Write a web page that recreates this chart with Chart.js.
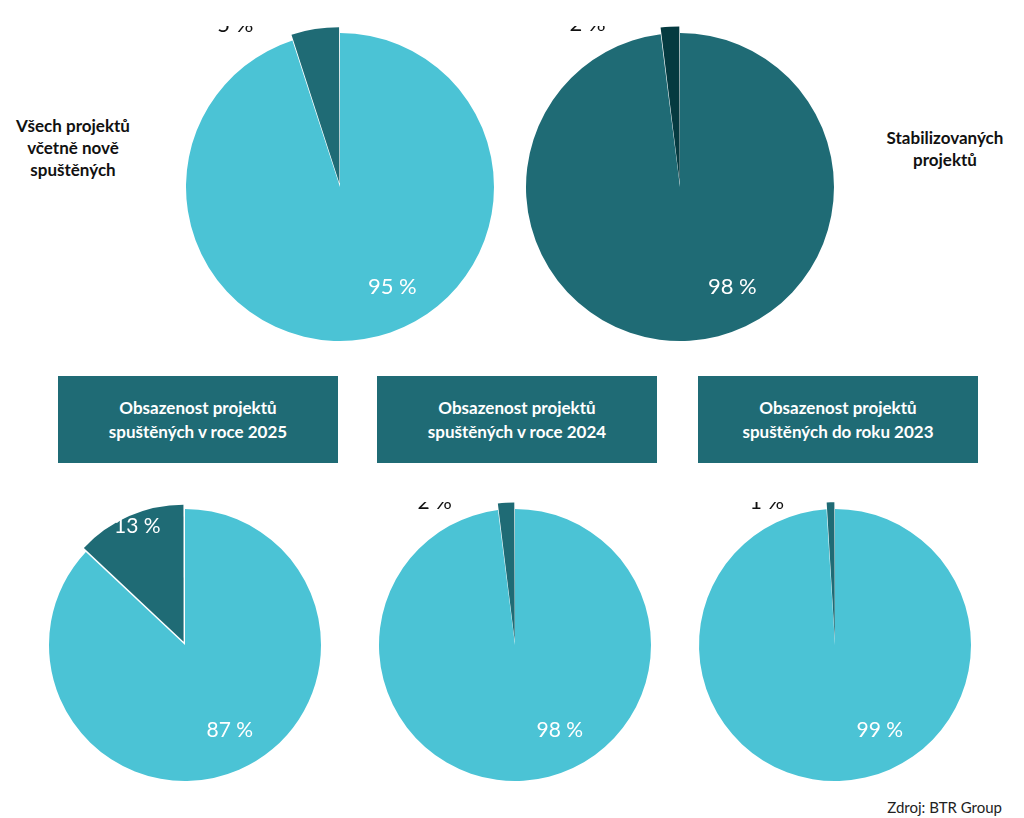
<!DOCTYPE html>
<html lang="cs">
<head>
<meta charset="utf-8">
<script src="https://cdn.jsdelivr.net/npm/chart.js@4"></script>
<style>
  body { margin: 0; width: 1024px; height: 818px; background: #fff; position: relative; font-family: Lato, "Open Sans", sans-serif; overflow: hidden; }
  canvas { position: absolute; }
  .side { position: absolute; font-weight: bold; font-size: 17px; line-height: 22px; color: #111; text-align: center; }
  .box { position: absolute; top: 376px; width: 280px; height: 87px; background: #1F6B75; color: #fff; font-weight: bold; font-size: 17px; line-height: 24px; display: flex; align-items: center; justify-content: center; text-align: center; }
  .src { position: absolute; right: 22px; top: 798px; font-size: 15px; color: #222; }
</style>
</head>
<body>
<div class="side" style="left:0;top:115px;width:146px">Všech projektů<br>včetně nově<br>spuštěných</div>
<div class="side" style="left:866px;top:127px;width:158px">Stabilizovaných<br>projektů</div>
<div class="box" style="left:58px">Obsazenost projektů<br>spuštěných v roce 2025</div>
<div class="box" style="left:377px">Obsazenost projektů<br>spuštěných v roce 2024</div>
<div class="box" style="left:698px">Obsazenost projektů<br>spuštěných do roku 2023</div>
<div class="src">Zdroj: BTR Group</div>

<canvas id="p1" width="322" height="322" style="left:179px;top:26px"></canvas>
<canvas id="p2" width="322" height="322" style="left:519px;top:26px"></canvas>
<canvas id="p3" width="286" height="286" style="left:42px;top:502px"></canvas>
<canvas id="p4" width="286" height="286" style="left:372px;top:502px"></canvas>
<canvas id="p5" width="286" height="286" style="left:692px;top:502px"></canvas>

<script>
// Podíl neobsazených / obsazených jednotek (v %)
const chartIds = ["p1", "p2", "p3", "p4", "p5"];
const vacant = [5, 2, 13, 2, 1];
const occupied = [95, 98, 87, 98, 99];

const LIGHT = "#4BC3D5", TEAL = "#1F6B75", DARK = "#053A40";
const smallColor = [TEAL, DARK, TEAL, TEAL, TEAL];
const bigColor = [LIGHT, TEAL, LIGHT, LIGHT, LIGHT];
const explode = [14, 14, 14, 14, 14];
// label placement: [dx, dy] relative to pie centre as fraction of radius
const smallPos = [[-0.68, -1.05], [-0.60, -1.06], [-0.35, -0.87], [-0.59, -1.05], [-0.50, -1.05]];
const smallInk = ["#111", "#111", "#fff", "#111", "#111"];
const bigPos = [[0.34, 0.65], [0.34, 0.65], [0.33, 0.63], [0.33, 0.63], [0.33, 0.63]];

const labelPlugin = {
  id: "pctLabels",
  afterDatasetsDraw(chart) {
    const i = chart.options.plugins.pctLabels.idx;
    const arc = chart.getDatasetMeta(0).data[1];
    const r = arc.outerRadius;
    const ctx = chart.ctx;
    ctx.save();
    ctx.font = (i < 2 ? "22px" : "21px") + " Lato, 'Open Sans', sans-serif";
    ctx.textAlign = "center";
    ctx.textBaseline = "middle";
    ctx.fillStyle = smallInk[i];
    ctx.fillText(vacant[i] + " %", arc.x + smallPos[i][0] * r, arc.y + smallPos[i][1] * r);
    ctx.fillStyle = "#fff";
    ctx.fillText(occupied[i] + " %", arc.x + bigPos[i][0] * r, arc.y + bigPos[i][1] * r);
    ctx.restore();
  }
};

chartIds.forEach((id, i) => {
  new Chart(document.getElementById(id), {
    type: "pie",
    data: {
      labels: ["Neobsazeno", "Obsazeno"],
      datasets: [{
        data: [vacant[i], occupied[i]],
        backgroundColor: [smallColor[i], bigColor[i]],
        borderWidth: 0,
        offset: [explode[i], 0],
      }],
    },
    options: {
      responsive: false,
      animation: false,
      rotation: -vacant[i] * 3.6,
      layout: { padding: 0 },
      events: [],
      plugins: { legend: { display: false }, tooltip: { enabled: false }, pctLabels: { idx: i } },
    },
    plugins: [labelPlugin],
  });
});
</script>
</body>
</html>
